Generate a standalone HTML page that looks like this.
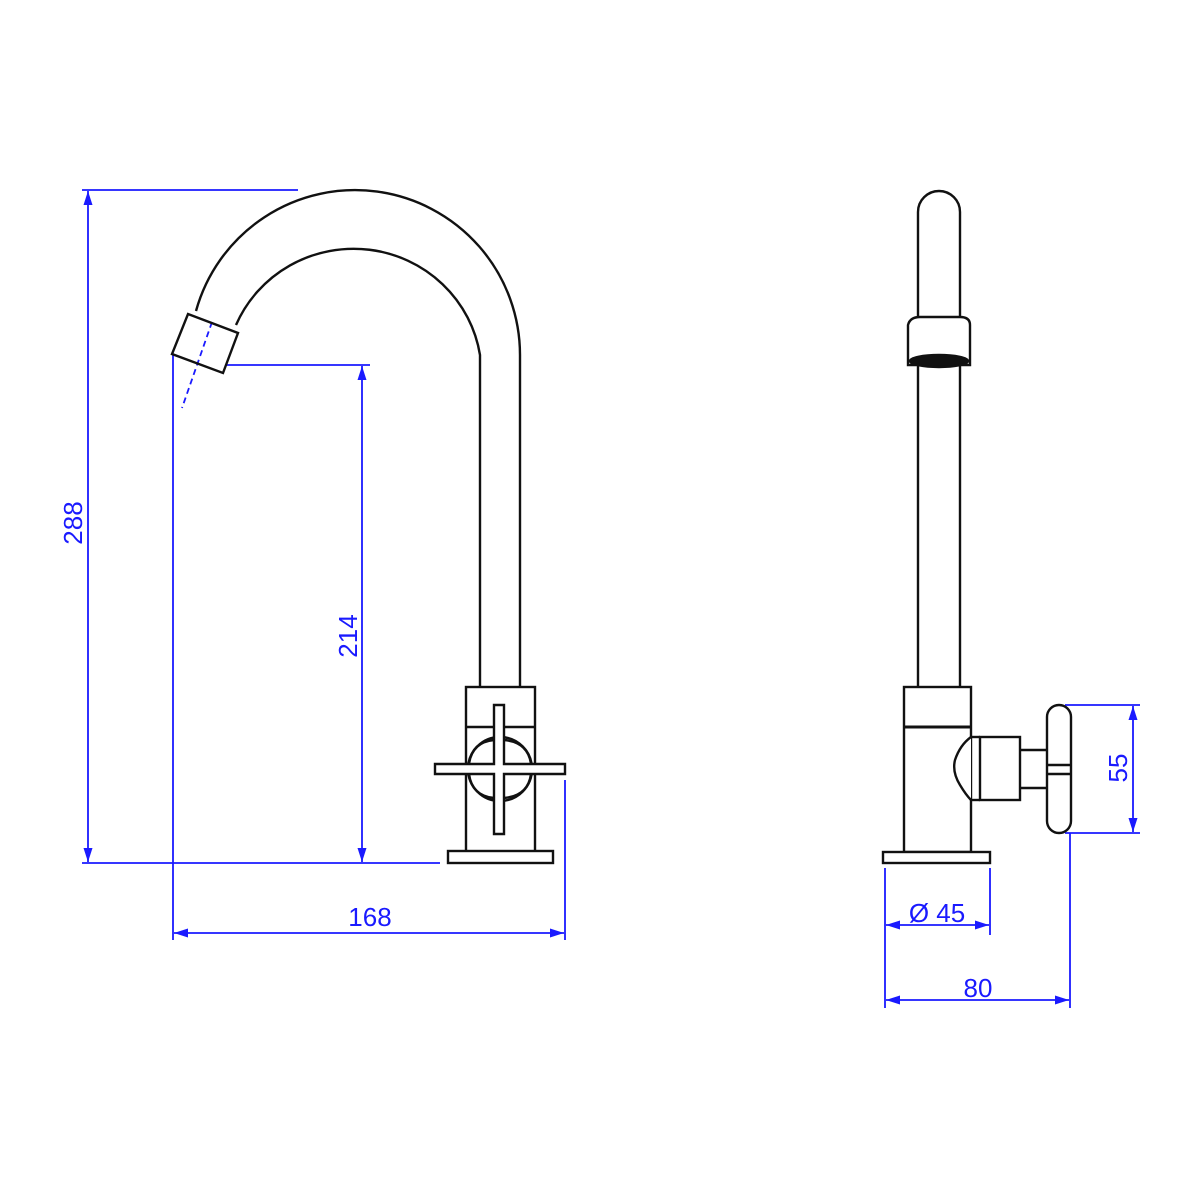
<!DOCTYPE html>
<html><head><style>html,body{margin:0;padding:0;background:#fff}svg{display:block}</style></head><body>
<svg width="1200" height="1200" viewBox="0 0 1200 1200" xmlns="http://www.w3.org/2000/svg">
<defs>
<marker id="a" markerWidth="14" markerHeight="12" refX="14" refY="6" orient="auto" markerUnits="userSpaceOnUse"><path d="M0,1.5 L14,6 L0,10.5 Z" fill="#1a1aff"/></marker>
</defs>
<g fill="none" stroke="#1a1aff" stroke-width="1.8">
<line x1="82" y1="190" x2="298" y2="190"/>
<line x1="82" y1="863" x2="440" y2="863"/>
<line x1="88" y1="500" x2="88" y2="191" marker-end="url(#a)"/>
<line x1="88" y1="500" x2="88" y2="862" marker-end="url(#a)"/>
<line x1="225" y1="365" x2="370" y2="365"/>
<line x1="362" y1="600" x2="362" y2="366" marker-end="url(#a)"/>
<line x1="362" y1="600" x2="362" y2="862" marker-end="url(#a)"/>
<line x1="173" y1="355" x2="173" y2="940"/>
<line x1="565" y1="780" x2="565" y2="940"/>
<line x1="370" y1="933" x2="174" y2="933" marker-end="url(#a)"/>
<line x1="370" y1="933" x2="564" y2="933" marker-end="url(#a)"/>
<line x1="212" y1="322" x2="182" y2="408" stroke-dasharray="6,4"/>
<line x1="885" y1="868" x2="885" y2="1008"/>
<line x1="990" y1="868" x2="990" y2="935"/>
<line x1="937" y1="925" x2="886" y2="925" marker-end="url(#a)"/>
<line x1="937" y1="925" x2="989" y2="925" marker-end="url(#a)"/>
<line x1="1070" y1="833" x2="1070" y2="1008"/>
<line x1="977" y1="1000" x2="886" y2="1000" marker-end="url(#a)"/>
<line x1="977" y1="1000" x2="1069" y2="1000" marker-end="url(#a)"/>
<line x1="1065" y1="705" x2="1140" y2="705"/>
<line x1="1065" y1="833" x2="1140" y2="833"/>
<line x1="1133" y1="768" x2="1133" y2="706" marker-end="url(#a)"/>
<line x1="1133" y1="768" x2="1133" y2="832" marker-end="url(#a)"/>
</g>
<g fill="#1a1aff" font-family="Liberation Sans, sans-serif" font-size="26">
<text x="370" y="926" text-anchor="middle">168</text>
<text x="937" y="922" text-anchor="middle">Ø 45</text>
<text x="978" y="997" text-anchor="middle">80</text>
<text transform="translate(82,523) rotate(-90)" text-anchor="middle">288</text>
<text transform="translate(357,636) rotate(-90)" text-anchor="middle">214</text>
<text transform="translate(1127,768) rotate(-90)" text-anchor="middle">55</text>
</g>
<g fill="none" stroke="#111" stroke-width="2.4">
<path d="M196,311 A165,165 0 0 1 520,355 L520,687"/>
<path d="M236,325 A128,126 0 0 1 480,355 L480,687"/>
<path d="M188,314 L238,333 L223,373 L172,354 Z"/>
<rect x="466" y="687" width="69" height="165"/>
<line x1="466" y1="727" x2="535" y2="727"/>
<circle cx="500" cy="769" r="32" fill="#fff"/>
<path d="M494,705 L504,705 L504,764 L565,764 L565,774 L504,774 L504,834 L494,834 L494,774 L435,774 L435,764 L494,764 Z" fill="#fff"/>
<path d="M494,740 Q472,742 469,764 M504,740 Q528,742 531,764 M494,798 Q472,796 469,774 M504,798 Q528,796 531,774"/>
<rect x="448" y="851" width="105" height="12" fill="#fff"/>
<path d="M918,317 L918,212 A21,21 0 0 1 960,212 L960,317"/>
<path d="M908,325 Q910,317 920,317 L960,317 Q970,317 970,325 L970,365 L908,365 Z"/>
<ellipse cx="939" cy="361" rx="29" ry="6" fill="#111"/>
<line x1="918" y1="365" x2="918" y2="687"/>
<line x1="960" y1="365" x2="960" y2="687"/>
<rect x="904" y="687" width="67" height="165"/>
<line x1="904" y1="727" x2="971" y2="727" stroke-width="3"/>
<path d="M971,737 Q960,745 955,760 Q952,772 960,785 Q966,795 971,800" fill="#fff"/>
<rect x="980" y="737" width="40" height="63" fill="#fff"/>
<line x1="971" y1="737" x2="980" y2="737"/>
<line x1="971" y1="800" x2="980" y2="800"/>
<line x1="1020" y1="750" x2="1048" y2="750"/>
<line x1="1020" y1="788" x2="1048" y2="788"/>
<rect x="1047" y="705" width="24" height="128" rx="12" fill="#fff"/>
<line x1="1048" y1="765" x2="1070" y2="765"/>
<line x1="1048" y1="774" x2="1070" y2="774"/>
<rect x="883" y="852" width="107" height="11" fill="#fff"/>
</g>
</svg>
</body></html>
